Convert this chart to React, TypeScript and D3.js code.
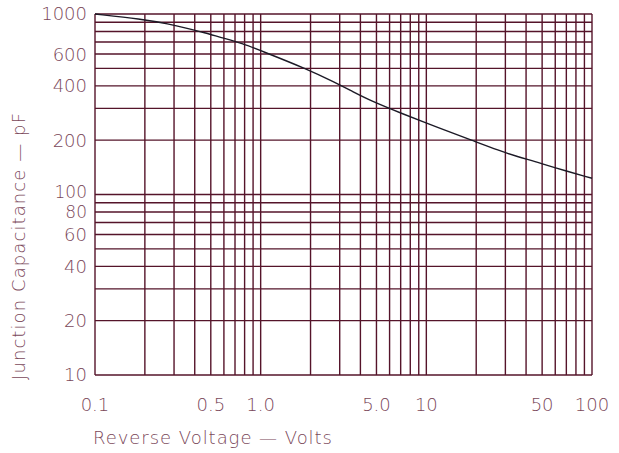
import React from "react";
import * as d3 from "d3";

// Reverse voltage (V) and junction capacitance (pF)
const voltage = [0.1, 0.19, 0.28, 0.36, 0.46, 0.57, 0.78, 1.0, 1.9, 2.8, 3.6, 4.6, 6.9, 12, 19, 27.5, 35.5, 45.7, 56, 100];
const capacitance = [1000, 938, 880, 833, 788, 743, 686, 627, 496, 418, 371, 331, 284, 233, 199, 175, 162, 152, 143, 123];

const xTickValues = [0.1, 0.5, 1, 5, 10, 50, 100];
const xTickLabels = ["0.1", "0.5", "1.0", "5.0", "10", "50", "100"];
const yTickValues = [1000, 600, 400, 200, 100, 80, 60, 40, 20, 10];
const yTickLabels = ["1000", "600", "400", "200", "100", "80", "60", "40", "20", "10"];

const xTitle = "Reverse  Voltage  \u2014  Volts";
const yTitle = "Junction  Capacitance  \u2014  pF";

const W = 619;
const H = 453;
const M = { left: 95, right: 592, top: 14, bottom: 375 };

function gridValues(lo: number, hi: number): number[] {
  const out: number[] = [];
  for (let d = lo; d < hi; d *= 10) {
    for (let m = 1; m <= 9; m++) out.push(d * m);
  }
  out.push(hi);
  return out;
}

export default function App() {
  const x = d3.scaleLog().domain([0.1, 100]).range([M.left, M.right]);
  const y = d3.scaleLog().domain([10, 1000]).range([M.bottom, M.top]);

  const xGrid = gridValues(0.1, 100);
  const yGrid = gridValues(10, 1000);

  const pts = voltage.map((v, i) => [v, capacitance[i]] as [number, number]);
  const line = d3
    .line<[number, number]>()
    .x((d) => x(d[0]))
    .y((d) => y(d[1]))
    .curve(d3.curveBasis);

  const gridColor = "#55142a";
  const textColor = "#7a4759";
  const font = "'DejaVu Sans', 'Liberation Sans', sans-serif";

  // small vertical nudge so the crowded "100" and "80" labels do not touch
  const yLabelDy = (v: number) => (v === 100 ? "0.18em" : "0.36em");

  return (
    <svg
      width={W}
      height={H}
      style={{ position: "absolute", left: 0, top: 0, background: "#fff" }}
    >
      <g>
        {xGrid.map((v, i) => (
          <line
            key={"xg" + i}
            x1={x(v)}
            x2={x(v)}
            y1={M.top}
            y2={M.bottom}
            stroke={gridColor}
            strokeWidth={1.4}
          />
        ))}
        {yGrid.map((v, i) => (
          <line
            key={"yg" + i}
            x1={M.left}
            x2={M.right}
            y1={y(v)}
            y2={y(v)}
            stroke={gridColor}
            strokeWidth={1.4}
          />
        ))}
      </g>
      <path
        d={line(pts) || ""}
        fill="none"
        stroke="#1c1a26"
        strokeWidth={1.4}
      />
      <g fontFamily={font} fontWeight={200} fill={textColor} fontSize={18}>
        {xTickValues.map((v, i) => (
          <text key={"xt" + i} x={x(v)} y={411} textAnchor="middle">
            {xTickLabels[i]}
          </text>
        ))}
        {yTickValues.map((v, i) => (
          <text
            key={"yt" + i}
            x={87}
            y={y(v)}
            dy={yLabelDy(v)}
            textAnchor="end"
            fontSize={v === 100 || v === 80 ? 17 : 18}
          >
            {yTickLabels[i]}
          </text>
        ))}
        <text x={93} y={444} textLength={239} lengthAdjust="spacing">
          {xTitle}
        </text>
        <text
          transform={`translate(25, 380) rotate(-90)`}
          textLength={267}
          lengthAdjust="spacing"
        >
          {yTitle}
        </text>
      </g>
    </svg>
  );
}
